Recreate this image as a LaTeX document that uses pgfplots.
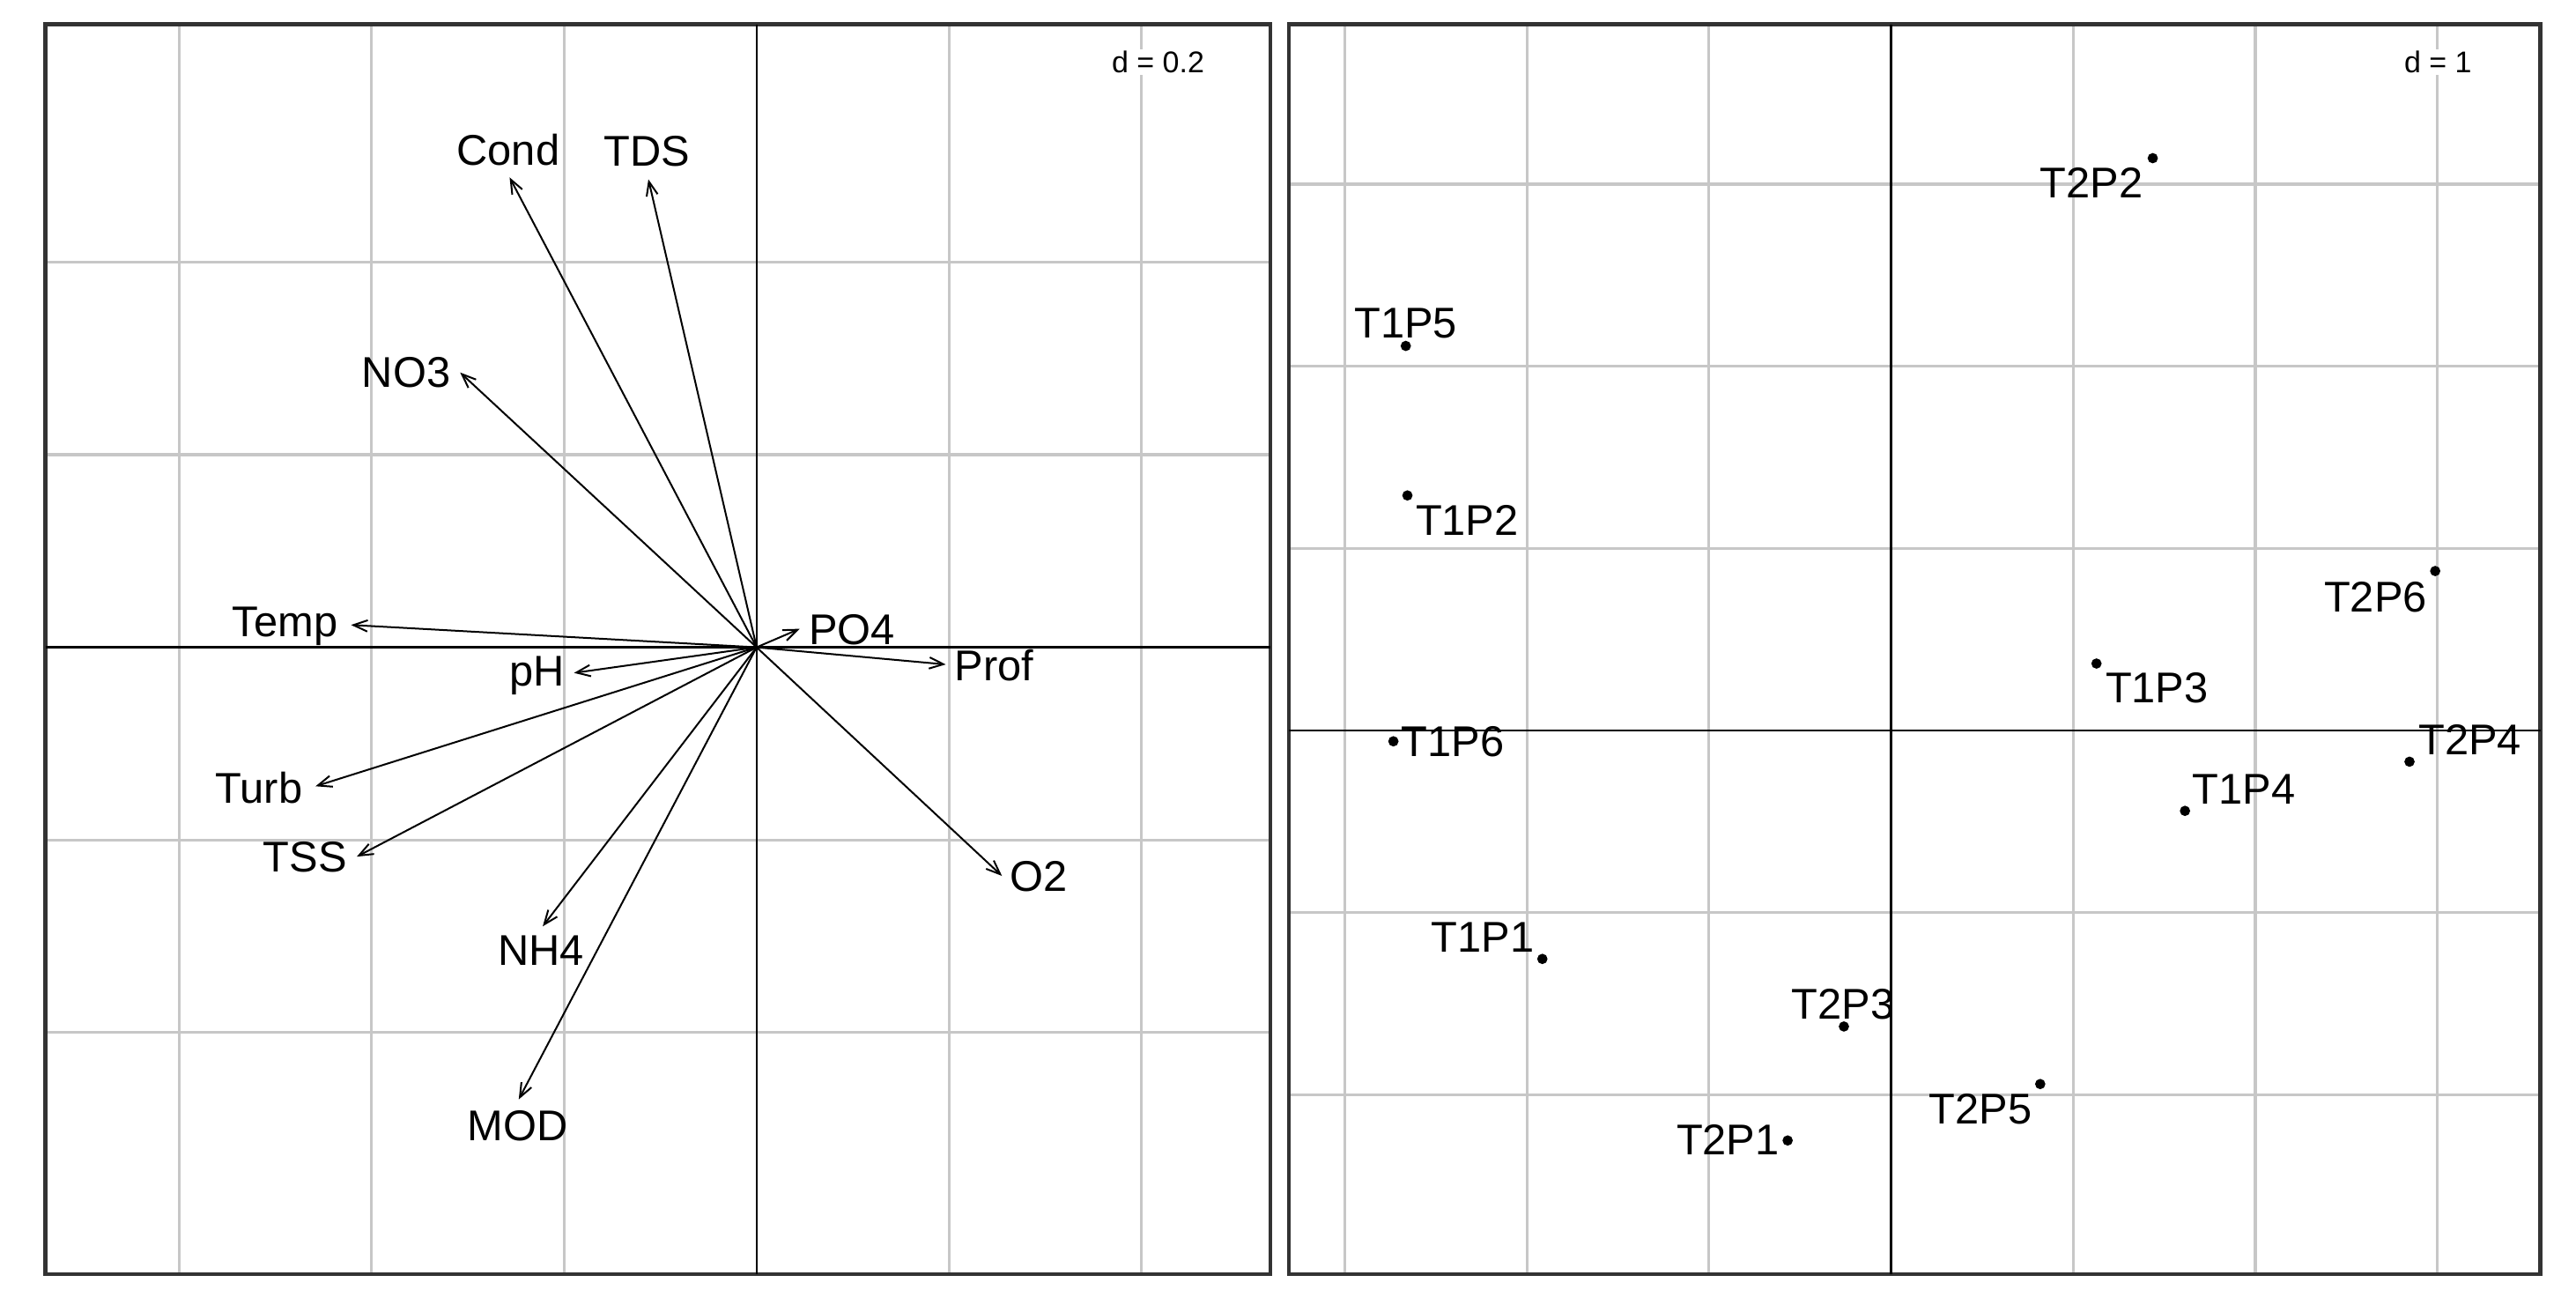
\documentclass[border=0pt]{standalone}
\usepackage{fontspec}
\setmainfont{Liberation Sans}
\usepackage{pgfplots}
\pgfplotsset{compat=1.18}
\usepackage{pgfplotstable}
\usetikzlibrary{arrows.meta}

\pgfplotstableread{
lab x y lx ly
Cond -0.2566 0.488 -0.258 0.517
TDS -0.1124 0.486 -0.114 0.515
NO3 -0.308 0.2854 -0.364 0.285
Temp -0.4213 0.0232 -0.490 0.022
PO4 0.0447 0.0192 0.099 0.018
Prof 0.1965 -0.0178 0.247 -0.019
pH -0.1897 -0.0266 -0.228 -0.029
Turb -0.4582 -0.1443 -0.517 -0.146
TSS -0.4153 -0.2174 -0.469 -0.218
NH4 -0.2222 -0.2898 -0.224 -0.315
MOD -0.2471 -0.4695 -0.248 -0.497
O2 0.2549 -0.2374 0.2935 -0.238
}\arrowtab

\pgfplotstableread{
lab x y lx ly
T2P2 1.437 3.143 1.101 3.007
T1P5 -2.665 2.112 -2.665 2.234
T1P2 -2.656 1.291 -2.328 1.155
T2P6 2.988 0.876 2.660 0.733
T1P3 1.128 0.368 1.460 0.235
T1P6 -2.733 -0.059 -2.406 -0.063
T2P4 2.847 -0.171 3.179 -0.049
T1P4 1.614 -0.441 1.937 -0.321
T1P1 -1.915 -1.254 -2.242 -1.133
T2P3 -0.259 -1.625 -0.264 -1.501
T2P5 0.819 -1.941 0.491 -2.077
T2P1 -0.568 -2.251 -0.896 -2.249
}\pointtab

\newcommand{\labfont}{\fontsize{12.2}{14}\selectfont}
\newcommand{\dfont}{\fontsize{8.5}{10}\selectfont}

\pgfplotsset{
  panel/.style={
    scale only axis,
    anchor=south west,
    xticklabels={}, yticklabels={},
    major tick length=0pt,
    grid=major,
    grid style={black!22, line width=0.8pt},
    extra x ticks={0}, extra y ticks={0},
    extra x tick labels={}, extra y tick labels={},
    extra tick style={grid style={black, line width=0.65pt}, major tick length=0pt},
    axis line style={black!80, line width=1.1pt},
  },
  labs/.style={only marks, mark=none, nodes near coords, point meta=explicit symbolic,
    nodes near coords style={anchor=center, font=\labfont, text=black, inner sep=0pt}},
}

\begin{document}
\begin{tikzpicture}[x=1pt,y=1pt]
\path[use as bounding box] (0,0) rectangle (731,370);
\begin{axis}[panel, at={(12.9pt,8.5pt)},
  width=347.6pt, height=354.6pt,
  xmin=-0.7388, xmax=0.5338, ymin=-0.651, ymax=0.647,
  xtick={-0.6,-0.4,-0.2,0.2,0.4}, ytick={-0.4,-0.2,0.2,0.4}]
\addplot[black, line width=0.5pt, -{Straight Barb[length=4pt,width=3.2pt]},
  quiver={u=\thisrow{x}, v=\thisrow{y}}] table[x expr=0, y expr=0] {\arrowtab};
\addplot[labs] table[x=lx, y=ly, meta=lab] {\arrowtab};
\node[fill=white, anchor=east, inner sep=0.5pt, font=\dfont] at (rel axis cs:0.948,0.970) {d = 0.2};
\end{axis}
\begin{axis}[panel, at={(365.8pt,8.5pt)},
  width=355.1pt, height=354.6pt,
  xmin=-3.306, xmax=3.566, ymin=-2.985, ymax=3.878,
  xtick={-3,-2,-1,1,2,3}, ytick={-2,-1,1,2,3}]
\addplot[only marks, mark=*, mark size=1.25pt, black] table[x=x, y=y] {\pointtab};
\addplot[labs] table[x=lx, y=ly, meta=lab] {\pointtab};
\node[fill=white, anchor=east, inner sep=0.5pt, font=\dfont] at (rel axis cs:0.947,0.970) {d = 1};
\end{axis}
\end{tikzpicture}
\end{document}
